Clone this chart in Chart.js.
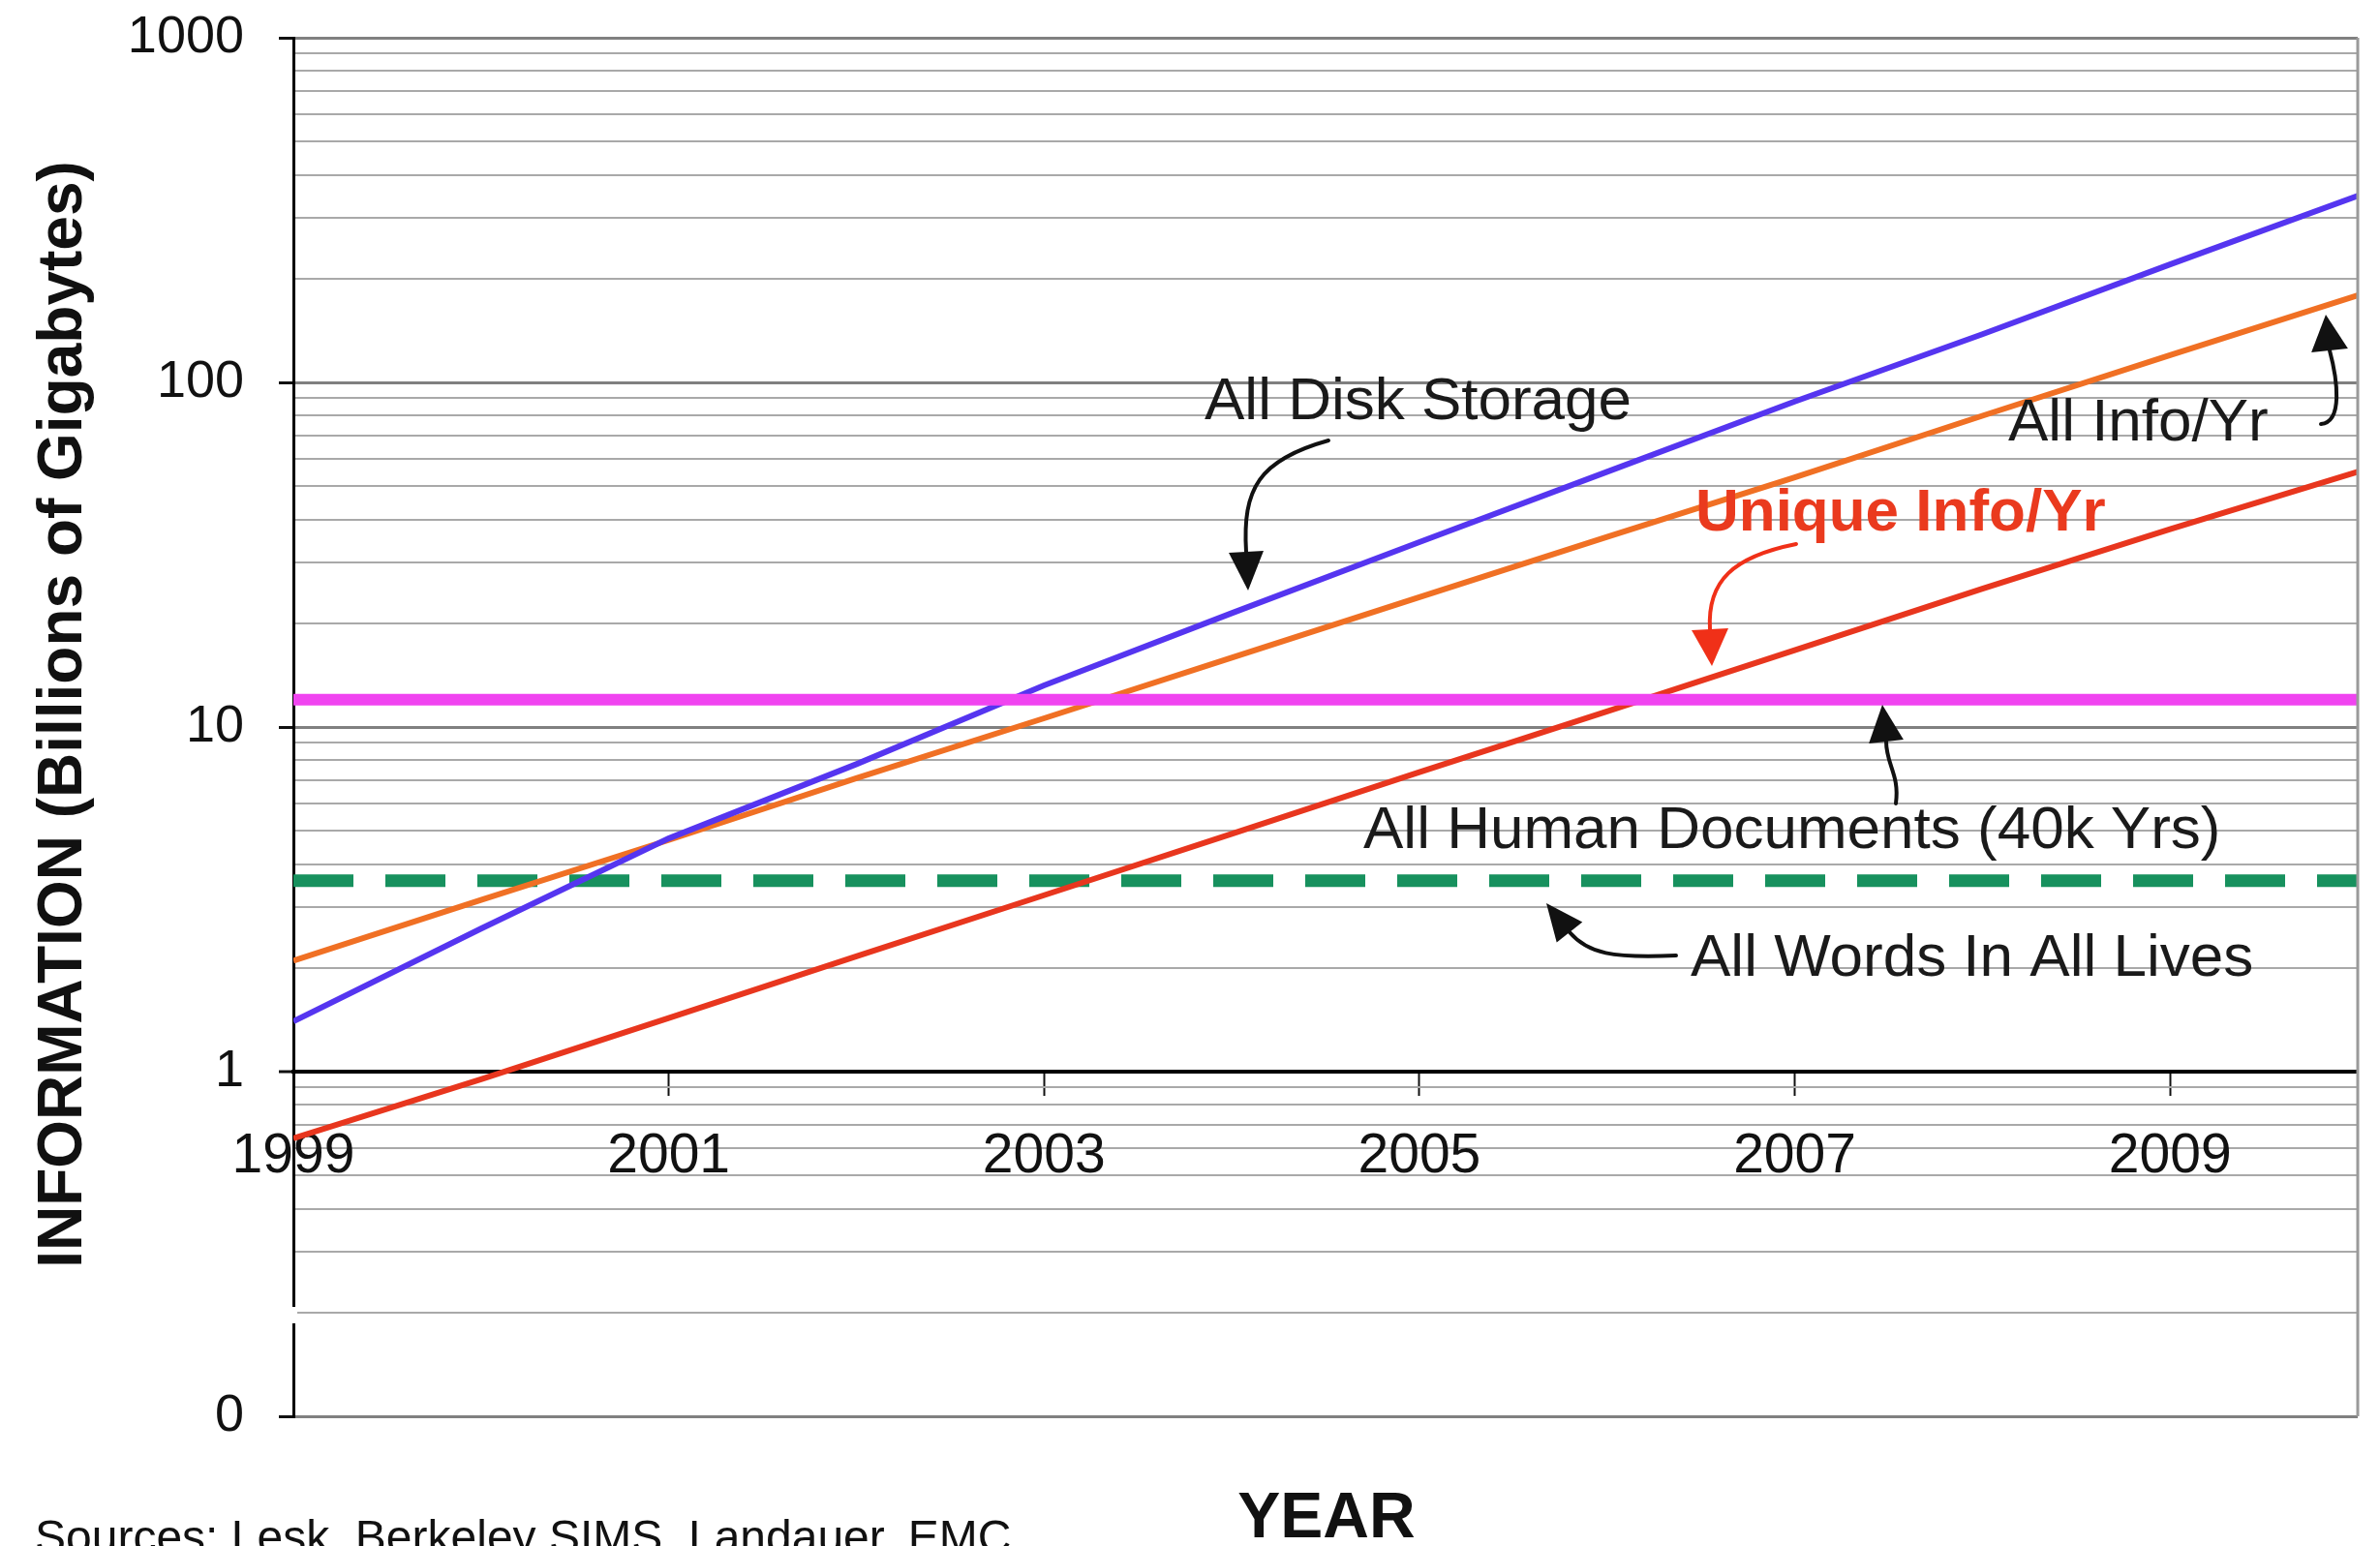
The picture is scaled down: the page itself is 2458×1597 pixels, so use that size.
<!DOCTYPE html>
<html>
<head>
<meta charset="utf-8">
<title>Information growth</title>
<script src="https://cdn.jsdelivr.net/npm/chart.js@4.4.1/dist/chart.umd.min.js"></script>
<style>
  html, body { margin: 0; padding: 0; background: #fff; }
  #wrap { width: 2458px; height: 1597px; }
</style>
</head>
<body>
<div id="wrap"><canvas id="myChart" width="2458" height="1597"></canvas></div>
<script>
// data (billions of GB, log scale)
const years = [1999, 2000, 2001, 2002, 2003, 2004, 2005, 2006, 2007, 2008, 2009, 2010];
const diskStorage = [1.40, 2.6, 4.75, 7.8, 13.2, 21.4, 34.4, 55, 88, 138, 220, 348];
const allInfoPerYear = [2.1, 3.15, 4.7, 7.1, 10.6, 15.9, 23.8, 35.6, 53, 80, 120, 179];
const uniqueInfoPerYear = [0.64, 0.95, 1.43, 2.16, 3.25, 4.9, 7.4, 11.1, 16.7, 25.2, 37.5, 55];
const spanYears = [1999, 2010];
const allHumanDocs = [12, 12];
const allWordsAllLives = [3.58, 3.58];

const yearTicks = [1999, 2001, 2003, 2005, 2007, 2009];
const yMajorTicks = [0.1, 1, 10, 100, 1000];
const yMajorLabels = ["0", "1", "10", "100", "1000"];

const FONT = '"Liberation Sans", Arial, Helvetica, sans-serif';

// minor grid values 0.1 .. 1000
const yGridValues = [];
yMajorTicks.slice(0, -1).forEach(d => {
  for (let m = 1; m < 10; m++) yGridValues.push(+(d * m).toPrecision(3));
});
yGridValues.push(1000);

function isMajor(v) {
  return yMajorTicks.some(m => Math.abs(m - v) < 1e-9);
}

function pts(xs, ys) {
  return xs.map((x, i) => ({ x: x, y: ys[i] }));
}

function arrow(ctx, p0, c1, c2, base, tip, w, color) {
  ctx.save();
  ctx.strokeStyle = color;
  ctx.fillStyle = color;
  ctx.lineWidth = 4;
  ctx.lineCap = 'round';
  ctx.beginPath();
  ctx.moveTo(p0[0], p0[1]);
  ctx.bezierCurveTo(c1[0], c1[1], c2[0], c2[1], base[0], base[1]);
  ctx.stroke();
  const dx = tip[0] - base[0], dy = tip[1] - base[1];
  const len = Math.hypot(dx, dy);
  const nx = -dy / len * w / 2, ny = dx / len * w / 2;
  ctx.beginPath();
  ctx.moveTo(tip[0], tip[1]);
  ctx.lineTo(base[0] + nx, base[1] + ny);
  ctx.lineTo(base[0] - nx, base[1] - ny);
  ctx.closePath();
  ctx.fill();
  ctx.restore();
}

const extras = {
  id: 'extras',
  afterDraw(chart) {
    const ctx = chart.ctx;
    const a = chart.chartArea;
    ctx.save();

    // right frame line
    ctx.strokeStyle = '#9a9a9a';
    ctx.lineWidth = 3;
    ctx.beginPath();
    ctx.moveTo(a.right, a.top);
    ctx.lineTo(a.right, a.bottom);
    ctx.stroke();

    // axis break near the bottom
    ctx.fillStyle = '#fff';
    ctx.fillRect(a.left - 4, 1350, 8, 17);

    // axis titles
    ctx.fillStyle = '#111';
    ctx.font = 'bold 64px ' + FONT;
    ctx.textAlign = 'center';
    ctx.textBaseline = 'alphabetic';
    ctx.save();
    ctx.translate(84, 738);
    ctx.rotate(-Math.PI / 2);
    ctx.fillText('INFORMATION (Billions of Gigabytes)', 0, 0);
    ctx.restore();

    ctx.font = 'bold 66px ' + FONT;
    ctx.fillText('YEAR', 1370, 1588);

    ctx.font = '48px ' + FONT;
    ctx.textAlign = 'left';
    ctx.fillText('Sources: Lesk, Berkeley SIMS, Landauer, EMC', 36, 1604);

    // annotations
    ctx.font = '62px ' + FONT;
    ctx.fillStyle = '#1a1a1a';
    ctx.fillText('All Disk Storage', 1244, 433);
    ctx.fillText('All Info/Yr', 2074, 455);
    ctx.fillText('All Human Documents (40k Yrs)', 1408, 876);
    ctx.fillText('All Words In All Lives', 1746, 1008);
    ctx.font = 'bold 62px ' + FONT;
    ctx.fillStyle = '#ea3a1e';
    ctx.fillText('Unique Info/Yr', 1751, 548);

    arrow(ctx, [1372, 455], [1300, 475], [1283, 505], [1287, 570], [1289, 610], 36, '#111');
    arrow(ctx, [2397, 438], [2420, 436], [2414, 392], [2406, 362], [2402, 325], 38, '#111');
    arrow(ctx, [1855, 562], [1790, 575], [1763, 600], [1766, 650], [1768, 688], 38, '#f03018');
    arrow(ctx, [1958, 830], [1962, 800], [1948, 790], [1948, 766], [1944, 728], 36, '#111');
    arrow(ctx, [1731, 987], [1665, 990], [1640, 985], [1621, 963], [1597, 933], 34, '#111');

    ctx.restore();
  }
};

const ctx = document.getElementById('myChart').getContext('2d');
const myChart = new Chart(ctx, {
  type: 'line',
  data: {
    datasets: [
      {
        label: 'All Human Documents (40k Yrs)',
        data: pts(spanYears, allHumanDocs),
        borderColor: '#f044f0',
        borderWidth: 12,
        order: 0
      },
      {
        label: 'All Disk Storage',
        data: pts(years, diskStorage),
        borderColor: '#5535f0',
        borderWidth: 6,
        order: 1
      },
      {
        label: 'All Info/Yr',
        data: pts(years, allInfoPerYear),
        borderColor: '#f07024',
        borderWidth: 6,
        order: 2
      },
      {
        label: 'Unique Info/Yr',
        data: pts(years, uniqueInfoPerYear),
        borderColor: '#e8361e',
        borderWidth: 6,
        order: 3
      },
      {
        label: 'All Words In All Lives',
        data: pts(spanYears, allWordsAllLives),
        borderColor: '#17915e',
        borderWidth: 13,
        borderDash: [62, 33],
        borderCapStyle: 'butt',
        order: 4
      }
    ]
  },
  options: {
    responsive: false,
    devicePixelRatio: 1,
    animation: false,
    elements: { point: { radius: 0 }, line: { tension: 0 } },
    layout: { padding: { left: 0, right: 23, top: 39, bottom: 134 } },
    plugins: {
      legend: { display: false },
      tooltip: { enabled: false }
    },
    scales: {
      x: {
        type: 'linear',
        position: { y: 1 },
        min: 1999,
        max: 2010,
        afterBuildTicks: s => { s.ticks = yearTicks.map(v => ({ value: v })); },
        ticks: {
          color: '#111',
          font: { family: FONT, size: 57 },
          padding: 31,
          maxRotation: 0,
          autoSkip: false,
          callback: v => String(v)
        },
        grid: {
          drawOnChartArea: false,
          drawTicks: true,
          tickLength: 23,
          tickColor: '#111',
          tickWidth: 2
        },
        border: { color: '#000', width: 4 }
      },
      y: {
        type: 'logarithmic',
        position: 'left',
        min: 0.1,
        max: 1000,
        afterFit: s => {
          s.width = 303;
          s.paddingTop = 0;
          s.paddingBottom = 0;
        },
        afterBuildTicks: s => { s.ticks = yGridValues.map(v => ({ value: v, major: isMajor(v) })); },
        ticks: {
          color: '#111',
          font: { family: FONT, size: 54 },
          padding: 36,
          autoSkip: false,
          callback: v => {
            const i = yMajorTicks.findIndex(m => Math.abs(m - v) < 1e-9);
            return i >= 0 ? yMajorLabels[i] : '';
          }
        },
        grid: {
          color: c => {
            const v = c.tick ? c.tick.value : 0;
            if (Math.abs(v - 1) < 1e-9) return '#000';
            return isMajor(v) ? '#808080' : '#a9a9a9';
          },
          lineWidth: c => {
            const v = c.tick ? c.tick.value : 0;
            if (Math.abs(v - 1) < 1e-9) return 4;
            return isMajor(v) ? 3 : 2;
          },
          tickLength: 15,
          tickColor: c => (c.tick && isMajor(c.tick.value)) ? '#111' : 'rgba(0,0,0,0)',
          tickWidth: 3
        },
        border: { color: '#000', width: 3 }
      }
    }
  },
  plugins: [extras]
});
</script>
</body>
</html>
